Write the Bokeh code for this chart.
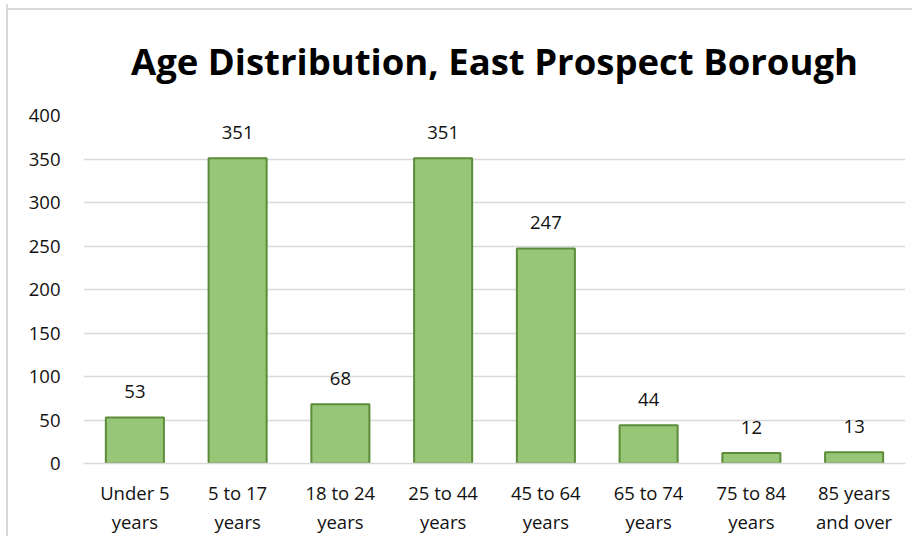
from bokeh.plotting import figure
from bokeh.models import ColumnDataSource, Range1d, FixedTicker, LinearAxis
from bokeh.embed import file_html
from bokeh.resources import INLINE
from bokeh.core.properties import value

categories = ["Under 5 years", "5 to 17 years", "18 to 24 years", "25 to 44 years",
              "45 to 64 years", "65 to 74 years", "75 to 84 years", "85 years and over"]
label_line1 = ["Under 5", "5 to 17", "18 to 24", "25 to 44", "45 to 64", "65 to 74", "75 to 84", "85 years"]
label_line2 = ["years", "years", "years", "years", "years", "years", "years", "and over"]
population = [53, 351, 68, 351, 247, 44, 12, 13]
y_ticks = [0, 50, 100, 150, 200, 250, 300, 350, 400]

FONT = "Open Sans"
TXT = "#111111"

pos = list(range(len(categories)))
source = ColumnDataSource(dict(x=pos, cat=categories, val=population,
                               lab=[str(v) for v in population]))

p = figure(width=906, height=532, output_backend="svg", toolbar_location=None,
           x_range=Range1d(-0.5, len(categories) - 0.5), y_range=Range1d(0, 400),
           title="Age Distribution, East Prospect Borough",
           min_border_left=75, min_border_right=9, min_border_top=111, min_border_bottom=73,
           x_axis_location=None)
p.border_fill_color = None
p.background_fill_color = "white"
p.styles = {"margin-left": "6px", "margin-top": "4px",
            "border-left": "2px solid #d9d9d9",
            "background": "linear-gradient(#d9d9d9, #d9d9d9) 0px 4px / 100% 2px no-repeat, white"}

p.title.align = "center"
p.title.text_font = FONT
p.title.text_font_style = "bold"
p.title.text_font_size = "36.5px"
p.title.text_color = "#000000"
p.title.standoff = 59

p.vbar(x="x", top="val", width=0.565, source=source,
       fill_color="#97C676", line_color="#5B8C3A", line_width=2)

p.text(x="x", y="val", text="lab", source=source, text_align="center",
       text_baseline="middle", y_offset=-26, text_font=value(FONT),
       text_font_size="18.5px", text_color=TXT)

# y axis
p.yaxis.ticker = FixedTicker(ticks=y_ticks)
p.yaxis.axis_line_color = None
p.yaxis.major_tick_line_color = None
p.yaxis.minor_tick_line_color = None
p.yaxis.major_label_text_font = FONT
p.yaxis.major_label_text_font_size = "18.5px"
p.yaxis.major_label_text_color = TXT
p.yaxis.major_label_standoff = 17

p.ygrid.ticker = FixedTicker(ticks=y_ticks)
p.ygrid.grid_line_color = "#d9d9d9"
p.ygrid.grid_line_width = 1.5
p.xgrid.grid_line_color = None
p.outline_line_color = None

# two-line category labels via two stacked axes
ax1 = LinearAxis(ticker=FixedTicker(ticks=pos),
                 major_label_overrides=dict(zip(pos, label_line1)))
ax2 = LinearAxis(ticker=FixedTicker(ticks=pos),
                 major_label_overrides=dict(zip(pos, label_line2)))
for ax in (ax1, ax2):
    ax.major_tick_line_color = None
    ax.minor_tick_line_color = None
    ax.major_label_text_font = FONT
    ax.major_label_text_font_size = "18.5px"
    ax.major_label_text_color = TXT
    ax.major_tick_out = 0
    ax.major_tick_in = 0
ax1.axis_line_color = "#d9d9d9"
ax1.axis_line_width = 1.5
ax1.major_label_standoff = 16
ax2.axis_line_color = None
ax2.major_label_standoff = 1
p.add_layout(ax1, "below")
p.add_layout(ax2, "below")

open("out.html", "w").write(file_html(p, INLINE))
